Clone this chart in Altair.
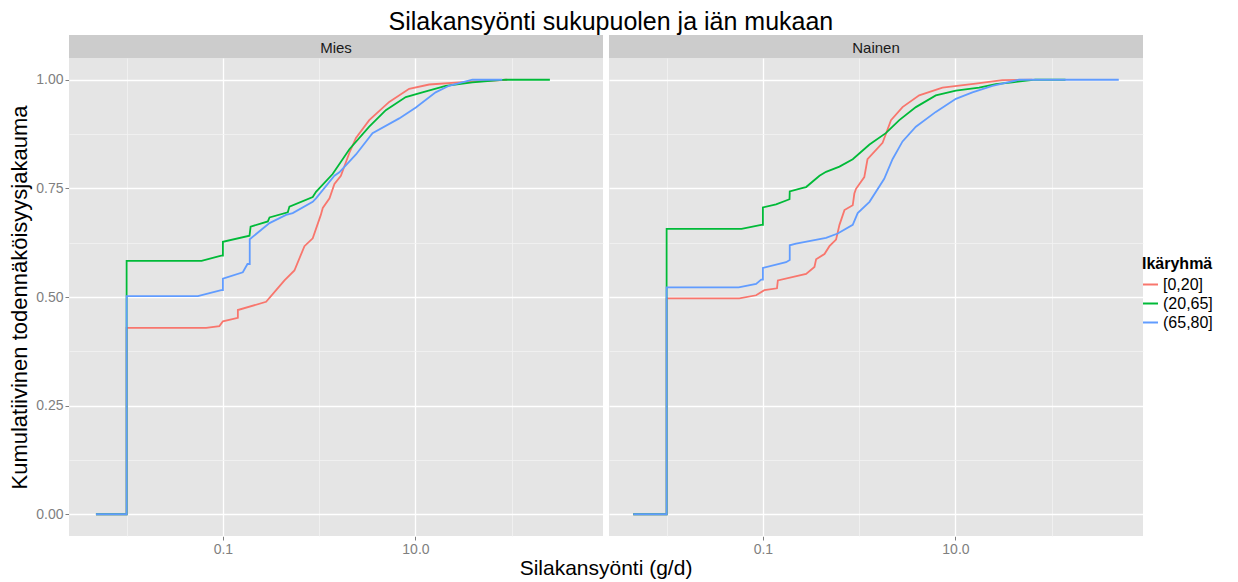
import altair as alt
import pandas as pd

FONT = "Liberation Sans"
TITLE = "Silakansyönti sukupuolen ja iän mukaan"
X_TITLE = "Silakansyönti (g/d)"
Y_TITLE = "Kumulatiivinen todennäköisyysjakauma"
LEGEND_TITLE = "Ikäryhmä"
PANELS = ["Mies", "Nainen"]
GROUPS = ["[0,20]", "(20,65]", "(65,80]"]
COLORS = ["#F8766D", "#00BA38", "#619CFF"]

X_TICKS = [0.01, 0.1, 1, 10, 100]
Y_TICKS = [0, 0.125, 0.25, 0.375, 0.5, 0.625, 0.75, 0.875, 1.0]
X_DOMAIN = [0.00252, 887]
Y_DOMAIN = [-0.05, 1.05]

# ---- Mies ----
mies_a_x = [0.0048, 0.01, 0.01, 0.067, 0.092, 0.1, 0.143, 0.143, 0.281, 0.357, 0.436, 0.553, 0.703, 0.857,
            1.04, 1.09, 1.28, 1.44, 1.68, 2.06, 2.41, 3.31, 5.34, 8.6, 13.9, 28.4, 89.8]
mies_a_y = [0, 0, 0.429, 0.429, 0.433, 0.444, 0.452, 0.470, 0.489, 0.516, 0.538, 0.561, 0.617, 0.635,
            0.689, 0.705, 0.727, 0.760, 0.779, 0.832, 0.866, 0.907, 0.949, 0.979, 0.989, 0.994, 1.0]
mies_b_x = [0.0048, 0.01, 0.01, 0.06, 0.096, 0.1, 0.1, 0.189, 0.194, 0.293, 0.305, 0.472, 0.491, 0.857,
            0.927, 1.38, 2.06, 3.31, 4.92, 7.93, 11.8, 20.6, 39.0, 86.3, 249]
mies_b_y = [0, 0, 0.583, 0.583, 0.595, 0.595, 0.627, 0.641, 0.662, 0.674, 0.683, 0.695, 0.708, 0.730,
            0.742, 0.783, 0.840, 0.892, 0.930, 0.960, 0.971, 0.986, 0.994, 1.0, 1.0]
mies_c_x = [0.0048, 0.01, 0.01, 0.055, 0.096, 0.1, 0.1, 0.161, 0.18, 0.19, 0.19, 0.305, 0.453, 0.531, 0.857,
            0.927, 1.44, 1.62, 2.41, 3.58, 6.78, 10.1, 16.2, 22.3, 39.0, 79.7]
mies_c_y = [0, 0, 0.502, 0.502, 0.516, 0.516, 0.542, 0.557, 0.576, 0.576, 0.633, 0.670, 0.689, 0.693, 0.719,
            0.727, 0.779, 0.787, 0.828, 0.877, 0.911, 0.936, 0.971, 0.986, 1.0, 1.0]

# ---- Nainen ----
nainen_a_x = [0.0045, 0.01, 0.01, 0.057, 0.085, 0.104, 0.14, 0.143, 0.281, 0.343, 0.357, 0.436, 0.491, 0.575,
              0.624, 0.703, 0.857, 0.891, 0.927, 1.13, 1.22, 1.75, 2.14, 2.82, 4.2, 7.33, 16.2, 30.7, 62.8]
nainen_a_y = [0, 0, 0.497, 0.497, 0.504, 0.516, 0.520, 0.538, 0.553, 0.569, 0.587, 0.599, 0.617, 0.632,
              0.666, 0.700, 0.711, 0.738, 0.749, 0.776, 0.817, 0.855, 0.907, 0.937, 0.964, 0.982, 0.991, 0.999, 1.0]
nainen_b_x = [0.0045, 0.01, 0.01, 0.06, 0.096, 0.1, 0.1, 0.137, 0.189, 0.19, 0.26, 0.281, 0.387, 0.453, 0.624,
              0.857, 1.28, 1.89, 2.61, 3.88, 6.25, 10.1, 17.6, 26.2, 39.0, 67.5, 139]
nainen_b_y = [0, 0, 0.657, 0.657, 0.666, 0.666, 0.706, 0.713, 0.725, 0.743, 0.751, 0.753, 0.779, 0.788, 0.800,
              0.817, 0.851, 0.877, 0.907, 0.937, 0.964, 0.975, 0.982, 0.990, 0.994, 1.0, 1.0]
nainen_c_x = [0.0045, 0.01, 0.01, 0.056, 0.085, 0.096, 0.1, 0.1, 0.174, 0.19, 0.19, 0.221, 0.453, 0.598, 0.857,
              0.965, 1.28, 1.82, 2.22, 2.82, 3.88, 6.25, 10.1, 15.0, 24.2, 45.7, 497]
nainen_c_y = [0, 0, 0.522, 0.522, 0.530, 0.540, 0.540, 0.567, 0.580, 0.585, 0.619, 0.623, 0.636, 0.646, 0.666,
              0.693, 0.719, 0.772, 0.817, 0.858, 0.892, 0.926, 0.956, 0.971, 0.986, 1.0, 1.0]

SERIES = [
    ("Mies", GROUPS[0], mies_a_x, mies_a_y),
    ("Mies", GROUPS[1], mies_b_x, mies_b_y),
    ("Mies", GROUPS[2], mies_c_x, mies_c_y),
    ("Nainen", GROUPS[0], nainen_a_x, nainen_a_y),
    ("Nainen", GROUPS[1], nainen_b_x, nainen_b_y),
    ("Nainen", GROUPS[2], nainen_c_x, nainen_c_y),
]

rows = []
for panel, grp, xs, ys in SERIES:
    for i, (xv, yv) in enumerate(zip(xs, ys)):
        rows.append({"panel": panel, "ryhma": grp, "x": xv, "y": yv, "i": i})
df = pd.DataFrame(rows)

PW, PH, SH = 534, 478, 23

x_major = "datum.value == 0.1 || datum.value == 10"
y_major = "indexof([0, 0.25, 0.5, 0.75, 1], datum.value) >= 0"

x_axis = alt.Axis(
    values=X_TICKS,
    labelExpr="datum.value == 0.1 ? '0.1' : (datum.value == 10 ? '10.0' : '')",
    grid=True,
    gridColor={"condition": {"test": x_major, "value": "#FFFFFF"}, "value": "#F2F2F2"},
    gridWidth={"condition": {"test": x_major, "value": 1.3}, "value": 0.8},
    tickColor={"condition": {"test": x_major, "value": "#7F7F7F"}, "value": "transparent"},
    tickSize=4, domain=False, labelPadding=2, labelColor="#7F7F7F", labelFontSize=14,
    labelFont=FONT, labelOverlap=False, title="",
)

y_axis = alt.Axis(
    values=Y_TICKS,
    labelExpr="indexof([0, 0.25, 0.5, 0.75, 1], datum.value) >= 0 ? format(datum.value, '.2f') : ''",
    grid=True,
    gridColor={"condition": {"test": y_major, "value": "#FFFFFF"}, "value": "#F2F2F2"},
    gridWidth={"condition": {"test": y_major, "value": 1.3}, "value": 0.8},
    tickColor={"condition": {"test": y_major, "value": "#7F7F7F"}, "value": "transparent"},
    tickSize=4, domain=False, labelPadding=2, labelColor="#7F7F7F", labelFontSize=14,
    labelFont=FONT, labelOverlap=False,
    title=Y_TITLE, titlePadding=4, titleFontSize=22, titleFont=FONT,
    titleFontWeight="normal", titleColor="#000000",
)

one_row = "datum.i == 0 && datum.ryhma == '[0,20]'"

strip_bg = alt.Chart().mark_rect(color="#CCCCCC", clip=False).encode(
    x=alt.value(0), x2=alt.value(PW), y=alt.value(-SH), y2=alt.value(0)
).transform_filter(one_row)

strip_text = alt.Chart().mark_text(
    fontSize=15, font=FONT, color="#1A1A1A", baseline="middle", align="center", clip=False
).encode(
    text="panel:N", x=alt.value(PW / 2), y=alt.value(-SH / 2 + 1)
).transform_filter(one_row)

lines = alt.Chart().mark_line(strokeWidth=1.8, clip=True).encode(
    x=alt.X("x:Q", scale=alt.Scale(type="log", domain=X_DOMAIN, nice=False), axis=x_axis),
    y=alt.Y("y:Q", scale=alt.Scale(domain=Y_DOMAIN, nice=False, zero=False), axis=y_axis),
    color=alt.Color(
        "ryhma:N",
        scale=alt.Scale(domain=GROUPS, range=COLORS),
        sort=GROUPS,
        legend=alt.Legend(
            title=LEGEND_TITLE, orient="none", legendX=1073, legendY=198,
            titleFontSize=16, titleFont=FONT, titleFontWeight="bold", titleColor="#000000",
            labelFontSize=16, labelFont=FONT, labelColor="#000000",
            symbolType="stroke", symbolSize=225, symbolStrokeWidth=2, rowPadding=2,
            titlePadding=4,
        ),
    ),
    order=alt.Order("i:Q"),
)

chart = alt.layer(strip_bg, strip_text, lines, data=df).properties(
    width=PW, height=PH
).facet(
    column=alt.Column(
        "panel:N", sort=PANELS,
        header=alt.Header(labels=False, title=X_TITLE, titleOrient="bottom", titleFontSize=21,
                          titleFont=FONT, titleFontWeight="normal", titleColor="#000000",
                          titlePadding=-8),
    ),
    spacing=6,
).properties(
    title=alt.TitleParams(TITLE, fontSize=25, font=FONT, fontWeight="normal", color="#000000",
                          anchor="middle", offset=0),
    padding={"left": 0, "top": 2, "right": 0, "bottom": 0},
    background="#FFFFFF",
).configure_view(stroke=None, fill="#E5E5E5")

chart.save("out.html", embed_options={"renderer": "svg", "actions": False})
